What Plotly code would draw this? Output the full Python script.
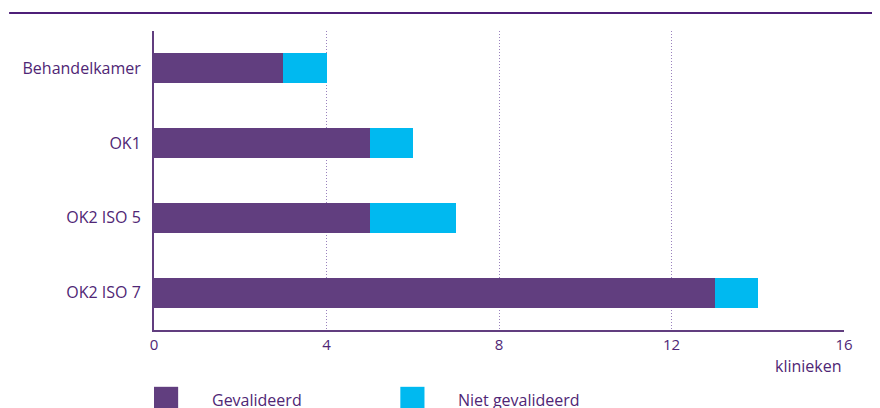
import plotly.graph_objects as go

categories = ["Behandelkamer", "OK1", "OK2 ISO 5", "OK2 ISO 7"]
gevalideerd = [3, 5, 5, 13]
niet_gevalideerd = [1, 1, 2, 1]
x_ticks = [0, 4, 8, 12, 16]

purple = "#613e7f"
cyan = "#00b9f0"
text_col = "#4f2675"

fig = go.Figure()
fig.add_trace(go.Bar(y=categories, x=gevalideerd, name="Gevalideerd",
                     orientation="h", marker=dict(color=purple, line_width=0), width=0.4))
fig.add_trace(go.Bar(y=categories, x=niet_gevalideerd, name="Niet gevalideerd",
                     orientation="h", marker=dict(color=cyan, line_width=0), width=0.4))

fig.update_layout(
    barmode="stack",
    width=880, height=408,
    margin=dict(l=146, r=44, t=23, b=86),
    plot_bgcolor="white", paper_bgcolor="white",
    showlegend=False,
    font=dict(family="Open Sans", size=16, color=text_col),
)
fig.update_xaxes(range=[0, 16], tickvals=x_ticks, showgrid=True, griddash="1px,2px",
                 gridcolor="#9a82bd", gridwidth=1, zeroline=False,
                 showline=True, linecolor=purple, linewidth=2,
                 ticks="", ticklabelstandoff=0, tickfont=dict(size=15))
fig.update_yaxes(autorange="reversed", showgrid=False, zeroline=False,
                 showline=True, linecolor=purple, linewidth=2,
                 ticks="", ticklabelstandoff=8)

# top rule
fig.add_shape(type="line", xref="paper", yref="paper",
              x0=-0.21, x1=1.06, y0=1.06, y1=1.06,
              line=dict(color="#4e1f78", width=2))

# axis unit
fig.add_annotation(text="klinieken", xref="paper", yref="paper", x=1.0, y=-0.12,
                   xanchor="right", yanchor="middle", showarrow=False,
                   font=dict(size=16))

# custom legend
legend_items = [("Gevalideerd", purple, 0.0), ("Niet gevalideerd", cyan, 0.357)]
for name, col, x0 in legend_items:
    fig.add_shape(type="rect", xref="paper", yref="paper",
                  x0=x0, x1=x0 + 0.035, y0=-0.261, y1=-0.19,
                  fillcolor=col, line_width=0)
    fig.add_annotation(text=name, xref="paper", yref="paper", x=x0 + 0.081, y=-0.234,
                       xanchor="left", yanchor="middle", showarrow=False,
                       font=dict(size=16))

fig.write_html("out.html")
